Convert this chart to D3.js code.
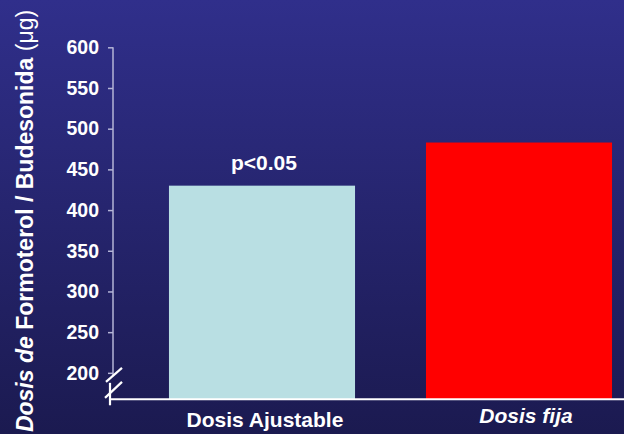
<!DOCTYPE html>
<html>
<head>
<meta charset="utf-8">
<script src="https://cdn.jsdelivr.net/npm/d3@7"></script>
<style>
  html, body { margin: 0; padding: 0; background: #1c1a52; }
  svg { display: block; }
  text { font-family: "Liberation Sans", Arial, Helvetica, sans-serif; fill: #ffffff; }
</style>
</head>
<body>
<svg id="chart" width="624" height="434"></svg>
<script>
// Dose data (µg) per dosing strategy
const categories = ["Dosis Ajustable", "Dosis fija"];
const values = [430, 483];
const barColors = ["#b9dfe3", "#ff0000"];
const labelItalic = [false, true];
const tickValues = [200, 250, 300, 350, 400, 450, 500, 550, 600];
const annotation = "p<0.05";

const W = 624, H = 434;
const svg = d3.select("#chart");

// Background gradient
const defs = svg.append("defs");
const grad = defs.append("linearGradient")
  .attr("id", "bg").attr("x1", 0).attr("y1", 0).attr("x2", 0).attr("y2", 1);
grad.append("stop").attr("offset", "0%").attr("stop-color", "#302f8b");
grad.append("stop").attr("offset", "100%").attr("stop-color", "#1b1a50");
svg.append("rect").attr("width", W).attr("height", H).attr("fill", "url(#bg)");

// Scales (value axis is broken below 200)
const axisX = 113;
const baseVal = 167.5;
const y = d3.scaleLinear().domain([baseVal, 600]).range([399.3, 47.3]);
const x = d3.scaleBand().domain(categories)
  .range([133.5, 647.5]).paddingInner(0.276).paddingOuter(0.138);

// Bars
svg.append("g").selectAll("rect")
  .data(categories)
  .join("rect")
  .attr("x", (d) => x(d))
  .attr("width", x.bandwidth())
  .attr("y", (d, i) => y(values[i]))
  .attr("height", (d, i) => y(baseVal) - y(values[i]))
  .attr("fill", (d, i) => barColors[i]);

// Y axis
const yAxis = d3.axisLeft(y).tickValues(tickValues).tickSize(5).tickPadding(9);
const gy = svg.append("g").attr("transform", `translate(${axisX},0)`).call(yAxis);
gy.select(".domain").remove();
gy.selectAll(".tick line").attr("stroke", "#b4b4d6").attr("stroke-width", 1.5);
gy.selectAll(".tick text")
  .attr("fill", "#ffffff")
  .style("font-size", "19.5px").style("font-weight", "bold")
  .style("font-family", '"Liberation Sans", Arial, sans-serif');
// axis spine down to the break
gy.append("line")
  .attr("x1", 0).attr("x2", 0)
  .attr("y1", y(600)).attr("y2", y(200) + 3)
  .attr("stroke", "#b4b4d6").attr("stroke-width", 1.5);

// Axis break marks
const brk = svg.append("g").attr("stroke", "#ffffff").attr("stroke-width", 2.2);
brk.append("line").attr("x1", axisX - 3).attr("x2", axisX - 3)
  .attr("y1", y(200) + 10).attr("y2", y(baseVal) + 6);
brk.append("line").attr("x1", axisX - 7).attr("y1", y(200) + 9)
  .attr("x2", axisX + 9).attr("y2", y(200) - 5);
brk.append("line").attr("x1", axisX - 8).attr("y1", y(200) + 25)
  .attr("x2", axisX + 9).attr("y2", y(200) + 9);

// X baseline
svg.append("line")
  .attr("x1", axisX - 3).attr("x2", W)
  .attr("y1", y(baseVal)).attr("y2", y(baseVal))
  .attr("stroke", "#ffffff").attr("stroke-width", 2);

// Category labels
svg.append("g").selectAll("text")
  .data(categories)
  .join("text")
  .attr("x", (d, i) => x(d) + x.bandwidth() / 2 + (labelItalic[i] ? 7 : 3))
  .attr("y", (d, i) => labelItalic[i] ? 423 : 427)
  .attr("text-anchor", "middle")
  .style("font-size", "21px").style("font-weight", "bold")
  .style("font-style", (d, i) => labelItalic[i] ? "italic" : "normal")
  .text((d) => d);

// Significance annotation above the first bar
svg.append("text")
  .attr("x", x(categories[0]) + x.bandwidth() / 2 + 2)
  .attr("y", y(values[0]) - 16)
  .attr("text-anchor", "middle")
  .style("font-size", "21px").style("font-weight", "bold")
  .text(annotation);

// Y axis title
const title = svg.append("text")
  .attr("transform", "translate(33,221) rotate(-90)")
  .attr("text-anchor", "middle")
  .style("font-size", "23px");
title.append("tspan").style("font-style", "italic").style("font-weight", "bold").text("Dosis de ");
title.append("tspan").style("font-weight", "bold").text("Formoterol / Budesonida ");
title.append("tspan").style("font-weight", "normal").text("(\u03bcg)");
</script>
</body>
</html>
